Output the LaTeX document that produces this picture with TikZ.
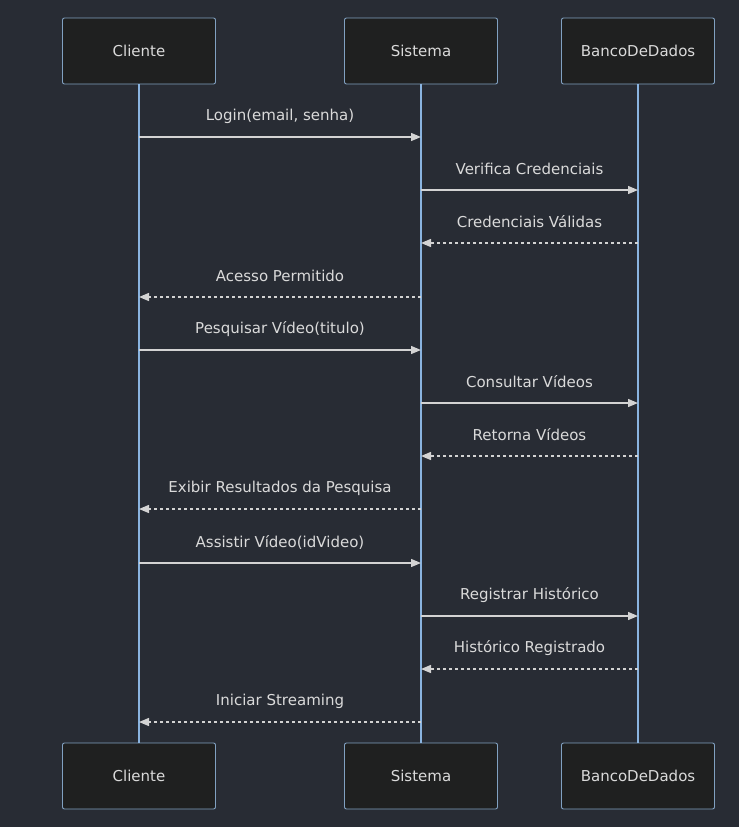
\documentclass[tikz,border=0pt]{standalone}
\usepackage{fontspec}
\setmainfont{DejaVu Sans}
\usetikzlibrary{arrows.meta,positioning,calc}
\definecolor{bg}{HTML}{282C34}
\definecolor{boxfill}{HTML}{1F2020}
\definecolor{boxline}{HTML}{81A1C1}
\definecolor{life}{HTML}{8AB4E0}
\definecolor{msgline}{HTML}{D3D3D3}
\definecolor{ink}{HTML}{DADADA}
\tikzset{
  actor/.style={draw=boxline, fill=boxfill, rounded corners=2pt, line width=0.9pt,
                minimum width=153pt, minimum height=66pt, inner sep=0pt,
                font=\fontsize{15}{17}\selectfont, text=ink},
  lifeline/.style={draw=life, line width=1.3pt},
  msg/.style={draw=msgline, line width=1.3pt, -{Triangle[length=10pt,width=8pt]}},
  reply/.style={msg, dash pattern=on 3pt off 3pt},
  msgtext/.style={font=\fontsize{15}{17}\selectfont, text=ink, yshift=21pt}
}
\begin{document}
\begin{tikzpicture}[x=1pt,y=-1pt]
  \fill[bg] (0,0) rectangle (739,827);
  \useasboundingbox (0,0) rectangle (739,827);

  % participants
  \node[actor] (cliT) at (139,51) {Cliente};
  \node[actor] (sisT) at (421,51) {Sistema};
  \node[actor] (banT) at (638,51) {BancoDeDados};
  \node[actor] (cliB) at (139,776) {Cliente};
  \node[actor] (sisB) at (421,776) {Sistema};
  \node[actor] (banB) at (638,776) {BancoDeDados};

  % lifelines
  \draw[lifeline] (cliT) -- (cliB);
  \draw[lifeline] (sisT) -- (sisB);
  \draw[lifeline] (banT) -- (banB);

  % message anchors on the lifelines
  \foreach \i/\y in {1/137,2/190,3/243,4/297,5/350,6/403,7/456,8/509,9/563,10/616,11/669,12/722}{
    \coordinate (c\i) at (cliT |- 0,\y);
    \coordinate (s\i) at (sisT |- 0,\y);
    \coordinate (b\i) at (banT |- 0,\y);
  }

  % messages
  \foreach \i/\a/\b/\sty/\txt in {
      1/c/s/msg/{Login(email, senha)},
      2/s/b/msg/{Verifica Credenciais},
      3/b/s/reply/{Credenciais Válidas},
      4/s/c/reply/{Acesso Permitido},
      5/c/s/msg/{Pesquisar Vídeo(titulo)},
      6/s/b/msg/{Consultar Vídeos},
      7/b/s/reply/{Retorna Vídeos},
      8/s/c/reply/{Exibir Resultados da Pesquisa},
      9/c/s/msg/{Assistir Vídeo(idVideo)},
      10/s/b/msg/{Registrar Histórico},
      11/b/s/reply/{Histórico Registrado},
      12/s/c/reply/{Iniciar Streaming}}{
    \draw[\sty] (\a\i) -- (\b\i) node[midway, msgtext] {\txt};
  }
\end{tikzpicture}
\end{document}
